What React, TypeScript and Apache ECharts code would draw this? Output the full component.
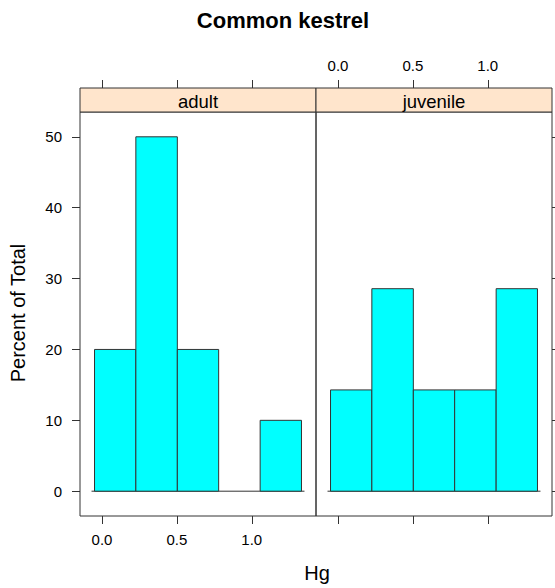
import React, { useEffect, useRef } from "react";
import * as echarts from "echarts";

const panels = ["adult", "juvenile"];
const breaks = [-0.05, 0.226, 0.503, 0.779, 1.056, 1.332];
const adultPct = [20, 50, 20, 0, 10];
const juvenilePct = [14.29, 28.57, 14.29, 14.29, 28.57];
const xTicks = [0, 0.5, 1.0];
const yTicks = [0, 10, 20, 30, 40, 50];

const FONT = "Liberation Sans, Arial, Helvetica, sans-serif";
const AX = "#333333";

function binData(vals: number[]) {
  return vals.map((v, i) => [breaks[i], breaks[i + 1], v]);
}

export default function App() {
  const ref = useRef<HTMLDivElement>(null);
  useEffect(() => {
    const chart = echarts.init(ref.current!, null, { renderer: "svg" });
    const renderBar = (params: any, api: any) => {
      const p0 = api.coord([api.value(0), api.value(2)]);
      const p1 = api.coord([api.value(1), 0]);
      const h = p1[1] - p0[1];
      if (h < 0.5) return { type: "group", children: [] };
      return {
        type: "rect",
        shape: { x: p0[0], y: p0[1], width: p1[0] - p0[0], height: h },
        style: { fill: "#00FFFF", stroke: AX, lineWidth: 1 },
      };
    };
    const renderBase = (params: any, api: any) => {
      const a = api.coord([api.value(0), 0]);
      const b = api.coord([api.value(1), 0]);
      return {
        type: "line",
        shape: { x1: a[0] - 3, y1: a[1], x2: b[0] + 3, y2: b[1] },
        style: { stroke: AX, lineWidth: 1 },
      };
    };
    const xBase = (gridIndex: number, position: string, showLabel: boolean, offset: number, margin: number) => ({
      type: "value",
      gridIndex,
      position,
      offset,
      min: -0.147,
      max: 1.429,
      axisLine: { show: false, onZero: false },
      axisTick: { show: true, customValues: xTicks, length: 8, lineStyle: { color: AX, width: 1 } },
      axisLabel: {
        show: showLabel,
        customValues: xTicks,
        margin,
        color: "#000",
        fontSize: 15,
        fontFamily: FONT,
        formatter: (v: number) => v.toFixed(1),
      },
      splitLine: { show: false },
    });
    const yBase = (gridIndex: number, position: string, showLabel: boolean) => ({
      type: "value",
      gridIndex,
      position,
      min: -3.5,
      max: 53.5,
      axisLine: { show: false, onZero: false },
      axisTick: { show: true, customValues: yTicks, length: 8, lineStyle: { color: AX, width: 1 } },
      axisLabel: {
        show: showLabel,
        customValues: yTicks,
        margin: 18,
        color: "#000",
        fontSize: 15,
        fontFamily: FONT,
      },
      splitLine: { show: false },
    });
    chart.setOption({
      animation: false,
      backgroundColor: "#ffffff",
      grid: [
        { left: 80, top: 112, width: 236, height: 404, show: true, borderColor: AX, borderWidth: 1 },
        { left: 316, top: 112, width: 236, height: 404, show: true, borderColor: AX, borderWidth: 1 },
      ],
      xAxis: [
        xBase(0, "bottom", true, 0, 16),
        xBase(0, "top", false, 24, 15),
        xBase(1, "bottom", false, 0, 16),
        xBase(1, "top", true, 24, 15),
      ],
      yAxis: [yBase(0, "left", true), yBase(1, "right", false)],
      graphic: [
        {
          type: "text",
          x: 283,
          y: 20,
          style: {
            text: "Common kestrel",
            align: "center",
            verticalAlign: "middle",
            fontSize: 22,
            fontWeight: "bold",
            fontFamily: FONT,
            fill: "#000",
          },
        },
        {
          type: "rect",
          shape: { x: 80, y: 88, width: 236, height: 24 },
          style: { fill: "#FFE5CC", stroke: AX, lineWidth: 1 },
        },
        {
          type: "rect",
          shape: { x: 316, y: 88, width: 236, height: 24 },
          style: { fill: "#FFE5CC", stroke: AX, lineWidth: 1 },
        },
        {
          type: "text",
          x: 198,
          y: 101,
          style: { text: panels[0], align: "center", verticalAlign: "middle", fontSize: 18.5, fontFamily: FONT, fill: "#000" },
        },
        {
          type: "text",
          x: 434,
          y: 101,
          style: { text: panels[1], align: "center", verticalAlign: "middle", fontSize: 18.5, fontFamily: FONT, fill: "#000" },
        },
        {
          type: "text",
          x: 18,
          y: 313,
          rotation: Math.PI / 2,
          style: { text: "Percent of Total", align: "center", verticalAlign: "middle", fontSize: 20, fontFamily: FONT, fill: "#000" },
        },
        {
          type: "text",
          x: 317,
          y: 573,
          style: { text: "Hg", align: "center", verticalAlign: "middle", fontSize: 20, fontFamily: FONT, fill: "#000" },
        },
      ],
      series: [
        {
          type: "custom",
          name: panels[0] + " baseline",
          xAxisIndex: 0,
          yAxisIndex: 0,
          renderItem: renderBase,
          data: [[breaks[0], breaks[breaks.length - 1]]],
          z: 1,
        },
        {
          type: "custom",
          name: panels[0],
          xAxisIndex: 0,
          yAxisIndex: 0,
          renderItem: renderBar,
          encode: { x: [0, 1], y: 2 },
          data: binData(adultPct),
          z: 2,
        },
        {
          type: "custom",
          name: panels[1] + " baseline",
          xAxisIndex: 2,
          yAxisIndex: 1,
          renderItem: renderBase,
          data: [[breaks[0], breaks[breaks.length - 1]]],
          z: 1,
        },
        {
          type: "custom",
          name: panels[1],
          xAxisIndex: 2,
          yAxisIndex: 1,
          renderItem: renderBar,
          encode: { x: [0, 1], y: 2 },
          data: binData(juvenilePct),
          z: 2,
        },
      ],
    });
    return () => chart.dispose();
  }, []);
  return (
    <div
      ref={ref}
      style={{ position: "absolute", left: 0, top: 0, width: 555, height: 588 }}
    />
  );
}
